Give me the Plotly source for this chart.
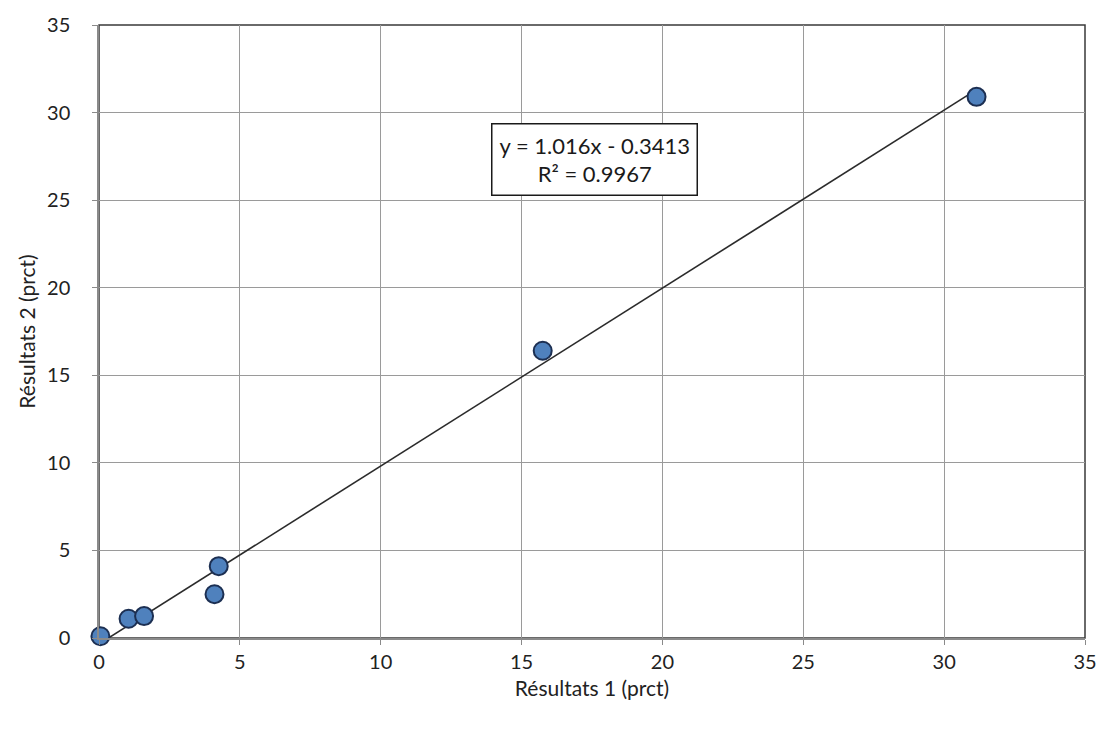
import plotly.graph_objects as go

# Paired measurements (percent) from the two result sets
resultats_1 = [0.05, 1.05, 1.6, 4.1, 4.25, 15.75, 31.15]
resultats_2 = [0.1, 1.1, 1.25, 2.5, 4.1, 16.4, 30.9]

# Linear trendline as reported in the equation box
slope = 1.016
intercept = -0.3413
r_squared = 0.9967

tick_vals = [0, 5, 10, 15, 20, 25, 30, 35]

FONT = "Lato, 'Open Sans', sans-serif"

x_line = [min(resultats_1), max(resultats_1)]
y_line = [slope * v + intercept for v in x_line]

fig = go.Figure()
fig.add_trace(go.Scatter(
    x=x_line, y=y_line, mode="lines",
    line=dict(color="#2b2b2b", width=1.6),
    hoverinfo="skip", showlegend=False,
))
fig.add_trace(go.Scatter(
    x=resultats_1, y=resultats_2, mode="markers", cliponaxis=False,
    marker=dict(size=18, color="#4f81bd", line=dict(color="#1c2f52", width=2)),
    showlegend=False,
))

fig.add_annotation(
    x=17.6, y=27.3, xref="x", yref="y",
    text=f"y = {slope}x - {abs(intercept)}<br>R² = {r_squared}",
    showarrow=False, align="center",
    font=dict(family=FONT, size=22, color="#1a1a1a"),
    bordercolor="#1a1a1a", borderwidth=1.5, borderpad=7,
    bgcolor="white",
)

# plot frame
fig.add_shape(type="rect", xref="paper", yref="paper", x0=0, y0=0, x1=1, y1=1,
              line=dict(color="#3a3a3a", width=1.5), layer="below")

axis_common = dict(
    range=[0, 35], tickvals=tick_vals, showgrid=True, gridcolor="#9a9a9a",
    gridwidth=1.2, zeroline=False, showline=True, linecolor="#8a8a8a",
    linewidth=1.5, ticks="outside", ticklen=5, tickcolor="#8a8a8a",
    tickfont=dict(family=FONT, size=20, color="#222222"),
)

fig.update_layout(
    width=1109, height=736,
    margin=dict(l=99, r=18, t=21, b=98),
    paper_bgcolor="white", plot_bgcolor="white",
    xaxis=dict(**axis_common, ticklabelstandoff=0,
               title=dict(text="Résultats 1 (prct)", standoff=10,
                          font=dict(family=FONT, size=21, color="#222222"))),
    yaxis=dict(**axis_common, ticklabelstandoff=18,
               title=dict(text="Résultats 2 (prct)", standoff=6,
                          font=dict(family=FONT, size=21, color="#222222"))),
)

fig.write_html("out.html")
